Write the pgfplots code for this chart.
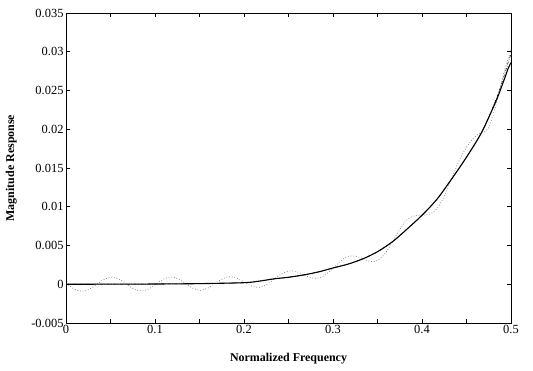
\documentclass[border=0pt]{standalone}
\usepackage{fontspec}
\setmainfont{Liberation Serif}
\usepackage{pgfplots}
\pgfplotsset{compat=1.18}
\begin{document}
\begin{tikzpicture}
\begin{axis}[
  scale only axis,
  width=445bp, height=310bp,
  xmin=0, xmax=0.5, ymin=-0.005, ymax=0.035,
  xtick={0,0.1,0.2,0.3,0.4,0.5},
  xticklabels={0,0.1,0.2,0.3,0.4,0.5},
  minor xtick={0.05,0.15,0.25,0.35,0.45},
  ytick={-0.005,0,0.005,0.01,0.015,0.02,0.025,0.03,0.035},
  yticklabels={-0.005,0,0.005,0.01,0.015,0.02,0.025,0.03,0.035},
  scaled ticks=false,
  tick align=inside,
  major tick length=4bp, minor tick length=4bp,
  tick style={black, line width=0.6pt},
  axis line style={line width=0.9pt},
  /pgf/number format/assume math mode=true,
  tick label style={font=\fontsize{12.5}{14}\selectfont},
  yticklabel style={xshift=1bp},
  xticklabel style={yshift=1bp},
  xlabel={Normalized Frequency},
  ylabel={Magnitude Response},
  label style={font=\bfseries\fontsize{12}{14}\selectfont},
  xlabel style={at={(axis description cs:0.5,-0.116)}, anchor=center},
  ylabel style={at={(axis description cs:-0.123,0.5)}, anchor=center},
  clip=true,
]
% dotted rippled response
\addplot[black!55, dotted, line width=0.7pt, smooth, tension=0.6] coordinates {
(0,0) (0.0015,0) (0.0098,-0.00064) (0.0181,-0.0009) (0.0264,-0.00064) (0.0347,0.00001)
(0.0431,0.00065) (0.0514,0.00091) (0.0597,0.00065) (0.068,0.00002)
(0.0763,-0.00062) (0.0846,-0.00087) (0.0929,-0.00061) (0.1012,0.00003)
(0.1095,0.00067) (0.1178,0.00094) (0.1262,0.00069) (0.1345,0.00006)
(0.1428,-0.00053) (0.1511,-0.00077) (0.1594,-0.0005) (0.1677,0.00012)
(0.176,0.00071) (0.1843,0.00096) (0.1926,0.00075) (0.2009,0.0002)
(0.2093,-0.00027) (0.2176,-0.0004) (0.2259,-0.00002) (0.2342,0.0007)
(0.2425,0.00137) (0.2508,0.0017) (0.2591,0.00163) (0.2674,0.0012)
(0.2757,0.00083) (0.284,0.0008) (0.2923,0.00129) (0.3006,0.0021)
(0.309,0.00304) (0.3173,0.0036) (0.3256,0.0036) (0.3339,0.0033)
(0.3422,0.00292) (0.3505,0.0031) (0.3588,0.00402) (0.3671,0.0055)
(0.3754,0.00715) (0.3838,0.0084) (0.3921,0.00885) (0.4004,0.0089)
(0.4087,0.00905) (0.417,0.0098) (0.4253,0.01145) (0.4336,0.0137)
(0.4419,0.01602) (0.4502,0.0177) (0.4585,0.01892) (0.4668,0.0196)
(0.474,0.0200) (0.48,0.0219) (0.486,0.0245) (0.493,0.0277) (0.5,0.0302)
};
% dash-dot response
\addplot[black, line width=0.5pt, dash pattern=on 3pt off 1.5pt on 0.8pt off 1.5pt, smooth] coordinates {
(0,0) (0.05,0.00001) (0.1,0.00003) (0.15,0.00008) (0.2,0.0002) (0.217,0.0004)
(0.234,0.0007) (0.25,0.0009) (0.267,0.0012) (0.284,0.0016) (0.3,0.0021)
(0.317,0.0026) (0.334,0.0033) (0.35,0.0042) (0.367,0.0055) (0.383,0.0071)
(0.4,0.0089) (0.417,0.011) (0.434,0.0137) (0.45,0.0164) (0.467,0.0196)
(0.483,0.0238) (0.492,0.0268) (0.497,0.0287) (0.5,0.0297)
};
% solid response
\addplot[black, line width=1.1pt, smooth] coordinates {
(0,0) (0.05,0.00001) (0.1,0.00003) (0.15,0.00008) (0.2,0.0002) (0.217,0.0004)
(0.234,0.0007) (0.25,0.0009) (0.267,0.0012) (0.284,0.0016) (0.3,0.0021)
(0.317,0.0026) (0.334,0.0033) (0.35,0.0042) (0.367,0.0055) (0.383,0.0071)
(0.4,0.0089) (0.417,0.011) (0.434,0.0137) (0.45,0.0164) (0.467,0.0196)
(0.483,0.0236) (0.492,0.0263) (0.497,0.0279) (0.5,0.0286)
};
\end{axis}
\path ([xshift=-66bp,yshift=-48bp]current axis.south west) rectangle ([xshift=22bp,yshift=13bp]current axis.north east);
\end{tikzpicture}
\end{document}
